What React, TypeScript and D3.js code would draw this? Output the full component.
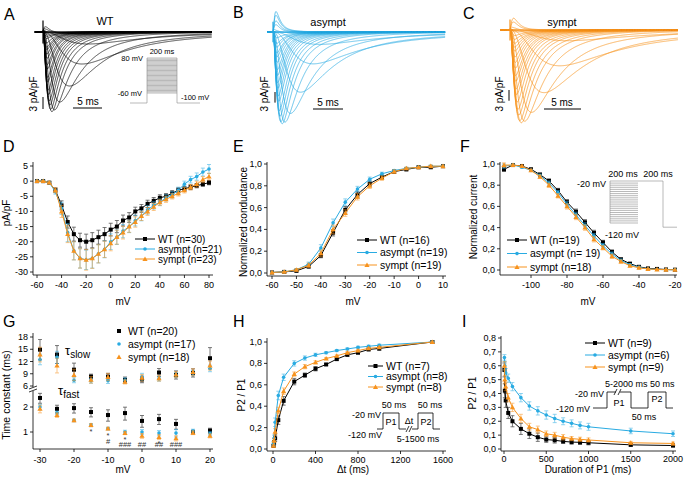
import * as React from 'react'
import * as d3 from 'd3'

const FONT = '"Liberation Sans", Arial, Helvetica, sans-serif'
const WT_C = '#000000'
const AS_C = '#29abe2'
const SY_C = '#f7931e'

// ---------- A-C : current traces (one per voltage step, peak taken from the I-V data)
const stepVoltages = [-60, -55, -50, -45, -40, -35, -30, -25, -20, -15, -10, -5, 0, 5, 10, 15, 20, 25, 30, 35, 40, 45, 50, 55, 60, 65, 70, 75, 80]
const traceTauM = [4, 4, 3.8, 3.5, 3.0, 2.0, 1.2, 0.8, 0.6, 0.5, 0.45, 0.4, 0.36, 0.33, 0.3, 0.28, 0.27, 0.26, 0.25, 0.24, 0.23, 0.22, 0.21, 0.2, 0.2, 0.19, 0.19, 0.18, 0.18]
const traceTauH = [9, 9, 8.5, 8, 7, 5, 3.5, 2.5, 2.0, 1.8, 1.6, 1.5, 1.4, 1.3, 1.25, 1.2, 1.15, 1.1, 1.05, 1.0, 1.0, 0.95, 0.95, 0.9, 0.9, 0.9, 0.85, 0.85, 0.85]

// ---------- D : I-V (pA/pF)
const ivV = [-60, -55, -50, -45, -40, -35, -30, -25, -20, -15, -10, -5, 0, 5, 10, 15, 20, 25, 30, 35, 40, 45, 50, 55, 60, 65, 70, 75, 80]
const ivWT = [0, 0, -0.5, -3, -8, -13.5, -17.5, -19.5, -20, -19.5, -18.5, -17.5, -16, -15, -13, -12, -10, -9, -7.5, -6.5, -5.5, -5, -4, -3, -2.5, -2, -1.5, -1, -0.5]
const ivWTErr = [0.2, 0.2, 0.3, 0.8, 1.5, 2, 2.3, 2.3, 2.5, 2.5, 2.3, 2.2, 2.1, 2, 1.8, 1.6, 1.4, 1.3, 1.2, 1.1, 1, 0.9, 0.9, 0.8, 0.8, 0.8, 0.7, 0.7, 0.7]
const ivAs = [0, 0, -0.5, -3.5, -9, -17, -23, -25.5, -26, -25.5, -24, -22.5, -20, -18.5, -16.5, -15, -13, -11.5, -9.5, -8, -7, -5.5, -4.5, -3, -1, 0.5, 1.5, 3, 4]
const ivAsErr = [0.2, 0.2, 0.3, 0.8, 2, 3, 3, 3.2, 3.2, 3.2, 3, 2.8, 2.6, 2.4, 2.2, 2, 1.8, 1.6, 1.4, 1.2, 1.1, 1, 1, 1, 1, 1.1, 1.2, 1.3, 1.5]
const ivSy = [0, 0, -0.5, -3, -10, -17.5, -23, -25.5, -26, -25.5, -24, -22.5, -20.5, -18.5, -17, -15, -13.5, -11.5, -10, -8.5, -7, -6, -5, -4, -3, -2, -1, 0.5, 1.5]
const ivSyErr = [0.2, 0.2, 0.3, 0.8, 2, 2.8, 3, 3.2, 3.4, 3.3, 3, 2.7, 2.5, 2.3, 2.1, 1.9, 1.7, 1.5, 1.3, 1.2, 1, 1, 0.9, 0.9, 0.9, 0.9, 1, 1, 1.1]

// ---------- E : activation
const condV = [-60, -55, -50, -45, -40, -35, -30, -25, -20, -15, -10, -5, 0, 5, 10]
const condWT = [0.005, 0.01, 0.02, 0.06, 0.16, 0.37, 0.58, 0.72, 0.82, 0.88, 0.93, 0.95, 0.97, 0.97, 0.98]
const condWTErr = [0.005, 0.005, 0.01, 0.015, 0.02, 0.03, 0.03, 0.03, 0.025, 0.02, 0.015, 0.01, 0.01, 0.01, 0.01]
const condAs = [0.005, 0.01, 0.03, 0.08, 0.23, 0.46, 0.65, 0.77, 0.86, 0.91, 0.94, 0.96, 0.97, 0.98, 0.98]
const condAsErr = [0.005, 0.005, 0.01, 0.02, 0.03, 0.035, 0.03, 0.025, 0.02, 0.015, 0.01, 0.01, 0.01, 0.01, 0.01]
const condSy = [0.005, 0.01, 0.03, 0.07, 0.18, 0.4, 0.55, 0.7, 0.8, 0.87, 0.93, 0.96, 0.97, 0.98, 0.98]
const condSyErr = [0.005, 0.005, 0.01, 0.02, 0.03, 0.04, 0.03, 0.03, 0.025, 0.02, 0.015, 0.01, 0.01, 0.01, 0.01]

// ---------- F : steady-state inactivation
const inactV = [-115, -110, -105, -100, -95, -90, -85, -80, -75, -70, -65, -60, -55, -50, -45, -40, -35, -30, -25, -20]
const inactWT = [0.95, 0.99, 0.98, 0.95, 0.9, 0.84, 0.75, 0.64, 0.55, 0.45, 0.35, 0.26, 0.17, 0.1, 0.06, 0.03, 0.015, 0.01, 0.005, 0.003]
const inactAs = [0.98, 0.99, 0.97, 0.94, 0.89, 0.82, 0.73, 0.62, 0.52, 0.42, 0.32, 0.23, 0.15, 0.09, 0.05, 0.025, 0.01, 0.005, 0.003, 0.002]
const inactSy = [0.99, 0.99, 0.98, 0.94, 0.88, 0.8, 0.7, 0.6, 0.5, 0.4, 0.29, 0.21, 0.13, 0.08, 0.04, 0.02, 0.01, 0.005, 0.003, 0.002]
const inactErr = [0.02, 0.01, 0.01, 0.01, 0.015, 0.02, 0.02, 0.025, 0.025, 0.025, 0.025, 0.02, 0.02, 0.015, 0.01, 0.01, 0.005, 0.005, 0.005, 0.005]

// ---------- G : time constants
const tauV = [-30, -25, -20, -15, -10, -5, 0, 5, 10, 15, 20]
const slowWT = [14.9, 13.7, 10, 8.3, 8.3, 7.5, 7.6, 9.3, 8.7, 9.2, 12.8]
const slowWTErr = [2.5, 2.2, 1.6, 0.6, 0.8, 0.7, 0.8, 1, 1, 1, 2.6]
const slowAs = [12.5, 13, 7.4, 7.3, 7.3, 7.4, 8.2, 7.8, 8.7, 9.2, 10.3]
const slowAsErr = [1.3, 1.5, 0.6, 0.6, 0.7, 0.6, 0.9, 0.6, 0.6, 0.6, 0.8]
const slowSy = [13.7, 11, 8.7, 7.5, 8.2, 7.0, 8.0, 7.9, 8.8, 9.4, 11]
const slowSyErr = [1.8, 1.8, 1.4, 0.8, 0.9, 0.5, 0.8, 0.7, 0.7, 0.8, 1.1]
const fastWT = [2.57, 1.9, 1.94, 1.74, 1.6, 1.69, 1.36, 1.43, 1.25, 1.0, 1.04]
const fastWTErr = [0.35, 0.2, 0.25, 0.22, 0.25, 0.3, 0.22, 0.2, 0.17, 0.05, 0.07]
const fastAs = [2.0, 1.7, 1.38, 1.21, 1.1, 1.0, 1.0, 0.97, 0.97, 1.03, 0.96]
const fastAsErr = [0.15, 0.08, 0.05, 0.05, 0.04, 0.05, 0.07, 0.07, 0.1, 0.05, 0.05]
const fastSy = [1.9, 1.6, 1.38, 1.21, 1.1, 0.97, 0.9, 0.87, 0.84, 0.98, 0.9]
const fastSyErr = [0.2, 0.1, 0.05, 0.05, 0.04, 0.04, 0.06, 0.06, 0.06, 0.05, 0.05]
// significance marks under the fast time constants
const sigV = [-15, -10, -5, 0, 5, 10]
const sigStar = ['*', '*', '*', '', '*', '']
const sigHash = ['', '#', '###', '##', '##', '###']

// ---------- H : recovery from inactivation
const recT = [5, 10, 20, 50, 100, 200, 300, 400, 500, 600, 700, 800, 900, 1000, 1500]
const recWT = [0.03, 0.06, 0.1, 0.27, 0.45, 0.63, 0.69, 0.75, 0.79, 0.84, 0.88, 0.9, 0.93, 0.94, 1.0]
const recWTErr = [0.01, 0.02, 0.03, 0.04, 0.04, 0.03, 0.02, 0.02, 0.01, 0.01, 0.01, 0.01, 0.01, 0.02, 0.01]
const recAs = [0.05, 0.1, 0.25, 0.5, 0.67, 0.8, 0.85, 0.88, 0.9, 0.92, 0.935, 0.95, 0.96, 0.97, 1.0]
const recAsErr = [0.02, 0.03, 0.04, 0.04, 0.03, 0.025, 0.02, 0.015, 0.01, 0.01, 0.01, 0.01, 0.01, 0.01, 0.01]
const recSy = [0.03, 0.08, 0.16, 0.36, 0.54, 0.7, 0.77, 0.81, 0.845, 0.87, 0.9, 0.92, 0.94, 0.95, 1.0]
const recSyErr = [0.01, 0.02, 0.03, 0.03, 0.03, 0.02, 0.02, 0.015, 0.01, 0.01, 0.01, 0.01, 0.01, 0.01, 0.01]

// ---------- I : development of inactivation
const durT = [5, 10, 20, 50, 100, 200, 300, 400, 500, 600, 700, 800, 900, 1000, 1500, 2000]
const durWT = [0.57, 0.42, 0.35, 0.26, 0.2, 0.145, 0.11, 0.085, 0.068, 0.063, 0.055, 0.05, 0.048, 0.045, 0.03, 0.025]
const durWTErr = [0.05, 0.05, 0.05, 0.04, 0.04, 0.04, 0.035, 0.03, 0.02, 0.02, 0.015, 0.015, 0.015, 0.015, 0.01, 0.01]
const durAs = [0.66, 0.6, 0.55, 0.51, 0.45, 0.37, 0.31, 0.275, 0.245, 0.22, 0.2, 0.185, 0.17, 0.16, 0.13, 0.11]
const durAsErr = [0.02, 0.03, 0.03, 0.03, 0.03, 0.03, 0.03, 0.03, 0.03, 0.03, 0.025, 0.025, 0.025, 0.025, 0.02, 0.02]
const durSy = [0.6, 0.5, 0.45, 0.37, 0.3, 0.22, 0.16, 0.14, 0.11, 0.1, 0.085, 0.075, 0.07, 0.065, 0.045, 0.04]
const durSyErr = [0.03, 0.03, 0.03, 0.03, 0.03, 0.03, 0.025, 0.025, 0.02, 0.02, 0.02, 0.015, 0.015, 0.015, 0.01, 0.01]

type Marker = 'square' | 'circle' | 'triangle'
interface Series { label: string; color: string; marker: Marker; x: number[]; y: number[]; err: number[] }

const comma = (v: number) => d3.format('.1f')(v).replace('.', ',')
const plain = (v: number) => String(v)

function Mark({ type, cx, cy, color, size = 4 }: { type: Marker; cx: number; cy: number; color: string; size?: number }) {
  if (type === 'square') return <rect x={cx - size / 2} y={cy - size / 2} width={size} height={size} fill={color} />
  if (type === 'circle') return <circle cx={cx} cy={cy} r={size / 2} fill={color} />
  const s = size * 0.65
  return <path d={`M${cx},${cy - s}L${cx + s},${cy + s * 0.75}L${cx - s},${cy + s * 0.75}Z`} fill={color} />
}

function AxisBottom({ scale, ticks, y, x1, x2, labelY, fmt }: any) {
  return (
    <g>
      <line x1={x1} x2={x2} y1={y} y2={y} stroke="#000" strokeWidth={0.8} />
      {ticks.map((t: number) => (
        <g key={t}>
          <line x1={scale(t)} x2={scale(t)} y1={y} y2={y + 3} stroke="#000" strokeWidth={0.8} />
          <text x={scale(t)} y={labelY} textAnchor="middle" fontSize={9}>{fmt(t)}</text>
        </g>
      ))}
    </g>
  )
}

function AxisLeft({ scale, ticks, x, y1, y2, fmt }: any) {
  return (
    <g>
      <line x1={x} x2={x} y1={y1} y2={y2} stroke="#000" strokeWidth={0.8} />
      {ticks.map((t: number) => (
        <g key={t}>
          <line x1={x - 3} x2={x} y1={scale(t)} y2={scale(t)} stroke="#000" strokeWidth={0.8} />
          <text x={x - 5} y={scale(t) + 3} textAnchor="end" fontSize={9}>{fmt(t)}</text>
        </g>
      ))}
    </g>
  )
}

function SeriesMarks({ s, x, y, lines = true }: { s: Series; x: any; y: any; lines?: boolean }) {
  const line = d3.line<number>().x((_, i) => x(s.x[i])).y(d => y(d))
  const ec = s.color === WT_C ? '#444' : s.color
  return (
    <g>
      {s.y.map((v, i) => {
        const cx = x(s.x[i])
        const a = y(v + s.err[i])
        const b = y(v - s.err[i])
        return (
          <g key={i} stroke={ec} strokeWidth={0.8} opacity={s.color === WT_C ? 0.9 : 0.65}>
            <line x1={cx} x2={cx} y1={a} y2={b} />
            <line x1={cx - 2} x2={cx + 2} y1={a} y2={a} />
            <line x1={cx - 2} x2={cx + 2} y1={b} y2={b} />
          </g>
        )
      })}
      {lines && <path d={line(s.y) || ''} fill="none" stroke={s.color} strokeWidth={1} />}
      {s.y.map((v, i) => <Mark key={i} type={s.marker} cx={x(s.x[i])} cy={y(v)} color={s.color} size={s.marker === 'circle' ? 3.6 : 4} />)}
    </g>
  )
}

function Legend({ series, x, y0, dy, w = 20, fontSize = 10.5, showLine = true }: any) {
  return (
    <g>
      {series.map((s: Series, i: number) => (
        <g key={s.label}>
          {showLine && <line x1={x} x2={x + w} y1={y0 + i * dy} y2={y0 + i * dy} stroke={s.color} strokeWidth={1} />}
          <Mark type={s.marker} cx={x + w / 2} cy={y0 + i * dy} color={s.color} size={s.marker === 'circle' ? 3.6 : 4} />
          <text x={x + w + 3} y={y0 + i * dy + 3.5} fontSize={fontSize}>{s.label}</text>
        </g>
      ))}
    </g>
  )
}

function traceShape(tm: number, th: number, t: number) {
  if (t <= 0) return 0
  const m = 1 - Math.exp(-t / tm)
  return m * m * m * (0.85 * Math.exp(-t / th) + 0.15 * Math.exp(-t / (th * 3)))
}

function Traces({ amps, color, t0x, pxPerMs, tStart, tEnd, base, pxPerUnit }: any) {
  const x = d3.scaleLinear().domain([0, 1]).range([t0x, t0x + pxPerMs])
  const y = d3.scaleLinear().domain([0, -1]).range([base, base + pxPerUnit])
  const times = d3.range(tStart, tEnd, 0.04)
  const line = d3.line<[number, number]>().x(d => x(d[0])).y(d => y(d[1]))
  return (
    <g fill="none" stroke={color} strokeWidth={0.7}>
      {amps.map((a: number, i: number) => {
        const tm = traceTauM[i]
        const th = traceTauH[i]
        const peak = d3.max(times, t => traceShape(tm, th, t)) || 1
        const gate = Math.max(0, (stepVoltages[i] + 40) / 120) * 1.8
        const pts: [number, number][] = times.map(t => {
          const g = t > 0 ? gate * (t / 0.45) * Math.exp(1 - t / 0.45) : 0
          return [t, (a * traceShape(tm, th, t)) / peak + g]
        })
        return <path key={i} d={line(pts) || ''} />
      })}
      <line x1={x(0)} x2={x(0)} y1={y(2.9)} y2={y(-2.9)} strokeWidth={1.2} />
      <line x1={x(-0.4)} x2={x(0.4)} y1={y(0)} y2={y(0)} strokeWidth={1.5} />
    </g>
  )
}

function ScaleBars({ vx, vy1, pxPerUnit, hx1, pxPerMs, hy, textX, textY, msX }: any) {
  return (
    <g>
      <line x1={vx} x2={vx} y1={vy1} y2={vy1 + 3 * pxPerUnit} stroke="#000" strokeWidth={1} />
      <text transform={`translate(${textX},${textY}) rotate(-90)`} textAnchor="middle" fontSize={10}>3 pA/pF</text>
      <line x1={hx1} x2={hx1 + 5 * pxPerMs} y1={hy} y2={hy} stroke="#000" strokeWidth={1} />
      <text x={msX} y={hy - 3} textAnchor="middle" fontSize={10}>5 ms</text>
    </g>
  )
}

function ProtocolA() {
  const v = d3.scaleLinear().domain([-100, 80]).range([103, 58])
  const x1 = 147
  const x2 = 177
  return (
    <g>
      <g stroke="#8a8a8a" strokeWidth={0.6}>
        {stepVoltages.map(s => <line key={s} x1={x1} x2={x2} y1={v(s)} y2={v(s)} />)}
        <line x1={130} x2={x1} y1={v(-100)} y2={v(-100)} />
        <line x1={x2} x2={200} y1={v(-100)} y2={v(-100)} />
        <line x1={x1} x2={x1} y1={v(-100)} y2={v(80)} />
        <line x1={x2} x2={x2} y1={v(-100)} y2={v(80)} />
      </g>
      <g fontSize={7.5}>
        <text x={143} y={v(80) + 3} textAnchor="end">80 mV</text>
        <text x={162} y={v(80) - 4} textAnchor="middle">200 ms</text>
        <text x={142} y={v(-60) + 3} textAnchor="end">-60 mV</text>
        <text x={181} y={v(-100) - 3}>-100 mV</text>
      </g>
    </g>
  )
}

function ProtocolF() {
  const v = d3.scaleLinear().domain([-120, -20]).range([223, 181])
  const pre = d3.range(-120, -15, 5)
  return (
    <g>
      <g stroke="#8a8a8a" strokeWidth={0.6}>
        {pre.map(s => <line key={s} x1={610} x2={638} y1={v(s)} y2={v(s)} />)}
        <line x1={610} x2={610} y1={v(-120)} y2={v(-20)} />
        <line x1={638} x2={663} y1={v(-20)} y2={v(-20)} />
        <line x1={663} x2={663} y1={v(-20)} y2={v(-130)} />
        <line x1={663} x2={677} y1={v(-130)} y2={v(-130)} />
      </g>
      <g fontSize={9}>
        <text x={606} y={187} textAnchor="end">-20 mV</text>
        <text x={623} y={177} textAnchor="middle">200 ms</text>
        <text x={658} y={177} textAnchor="middle">200 ms</text>
        <text x={605} y={238}>-120 mV</text>
      </g>
    </g>
  )
}

function ProtocolH() {
  const hi = 413
  const lo = 429
  return (
    <g>
      <path d={`M377,${lo}H383V${hi}H399V${lo}H406M412,${lo}H418V${hi}H433V${lo}H440`} fill="none" stroke="#000" strokeWidth={0.8} />
      <line x1={406} x2={409} y1={lo + 3} y2={lo - 3} stroke="#000" strokeWidth={0.8} />
      <line x1={409} x2={412} y1={lo + 3} y2={lo - 3} stroke="#000" strokeWidth={0.8} />
      <g fontSize={9}>
        <text x={394} y={408} textAnchor="middle">50 ms</text>
        <text x={430} y={408} textAnchor="middle">50 ms</text>
        <text x={381} y={418} textAnchor="end">-20 mV</text>
        <text x={391} y={425} textAnchor="middle">P1</text>
        <text x={409} y={424} textAnchor="middle">Δt</text>
        <text x={426} y={425} textAnchor="middle">P2</text>
        <text x={382} y={438} textAnchor="end">-120 mV</text>
        <text x={418} y={442} textAnchor="middle">5-1500 ms</text>
      </g>
    </g>
  )
}

function ProtocolI() {
  const hi = 392
  const lo = 408
  return (
    <g>
      <path d={`M593,${lo}H607V${hi}H616M620,${hi}H631V${lo}H648V${hi}H666V${lo}H673`} fill="none" stroke="#000" strokeWidth={0.8} />
      <line x1={614} x2={617} y1={hi + 3} y2={hi - 3} stroke="#000" strokeWidth={0.8} />
      <line x1={618} x2={621} y1={hi + 3} y2={hi - 3} stroke="#000" strokeWidth={0.8} />
      <g fontSize={9}>
        <text x={604} y={397} textAnchor="end">-20 mV</text>
        <text x={605} y={387}>5-2000 ms</text>
        <text x={650} y={387}>50 ms</text>
        <text x={590} y={412} textAnchor="end">-120 mV</text>
        <text x={644} y={420} textAnchor="middle">50 ms</text>
        <text x={619} y={406} textAnchor="middle">P1</text>
        <text x={657} y={402} textAnchor="middle">P2</text>
      </g>
    </g>
  )
}

function PanelLetter({ x, y, t }: { x: number; y: number; t: string }) {
  return <text x={x} y={y} fontSize={16}>{t}</text>
}

function YTitle({ x, y, t, size = 10 }: { x: number; y: number; t: string; size?: number }) {
  return <text transform={`translate(${x},${y}) rotate(-90)`} textAnchor="middle" fontSize={size}>{t}</text>
}

export default function App() {
  // D
  const dx = d3.scaleLinear().domain([-60, 80]).range([37, 209])
  const dy = d3.scaleLinear().domain([5, -30]).range([166, 272])
  const dSeries: Series[] = [
    { label: 'WT (n=30)', color: WT_C, marker: 'square', x: ivV, y: ivWT, err: ivWTErr },
    { label: 'asympt (n=21)', color: AS_C, marker: 'circle', x: ivV, y: ivAs, err: ivAsErr },
    { label: 'sympt (n=23)', color: SY_C, marker: 'triangle', x: ivV, y: ivSy, err: ivSyErr },
  ]
  // E
  const ex = d3.scaleLinear().domain([-60, 10]).range([272, 443])
  const ey = d3.scaleLinear().domain([0, 1]).range([273, 164])
  const eSeries: Series[] = [
    { label: 'WT (n=16)', color: WT_C, marker: 'square', x: condV, y: condWT, err: condWTErr },
    { label: 'asympt (n=19)', color: AS_C, marker: 'circle', x: condV, y: condAs, err: condAsErr },
    { label: 'sympt (n=19)', color: SY_C, marker: 'triangle', x: condV, y: condSy, err: condSyErr },
  ]
  // F
  const fx = d3.scaleLinear().domain([-100, -20]).range([531, 675])
  const fy = d3.scaleLinear().domain([0, 1]).range([270, 164])
  const fSeries: Series[] = [
    { label: 'WT (n=19)', color: WT_C, marker: 'square', x: inactV, y: inactWT, err: inactErr },
    { label: 'asympt (n= 19)', color: AS_C, marker: 'circle', x: inactV, y: inactAs, err: inactErr },
    { label: 'sympt (n=18)', color: SY_C, marker: 'triangle', x: inactV, y: inactSy, err: inactErr },
  ]
  // G
  const gx = d3.scaleLinear().domain([-30, 20]).range([40, 210])
  const gyUp = d3.scaleLinear().domain([6, 18]).range([386, 337])
  const gyLo = d3.scaleLog().domain([1, 2]).range([432, 407])
  const gSlow: Series[] = [
    { label: 'WT (n=20)', color: WT_C, marker: 'square', x: tauV, y: slowWT, err: slowWTErr },
    { label: 'asympt (n=17)', color: AS_C, marker: 'circle', x: tauV, y: slowAs, err: slowAsErr },
    { label: 'sympt (n=18)', color: SY_C, marker: 'triangle', x: tauV, y: slowSy, err: slowSyErr },
  ]
  const gFast: Series[] = [
    { label: 'WT (n=20)', color: WT_C, marker: 'square', x: tauV, y: fastWT, err: fastWTErr },
    { label: 'asympt (n=17)', color: AS_C, marker: 'circle', x: tauV, y: fastAs, err: fastAsErr },
    { label: 'sympt (n=18)', color: SY_C, marker: 'triangle', x: tauV, y: fastSy, err: fastSyErr },
  ]
  // H
  const hx = d3.scaleLinear().domain([0, 1600]).range([273, 443])
  const hy = d3.scaleLinear().domain([0, 1]).range([449, 342])
  const hSeries: Series[] = [
    { label: 'WT (n=7)', color: WT_C, marker: 'square', x: recT, y: recWT, err: recWTErr },
    { label: 'asympt (n=8)', color: AS_C, marker: 'circle', x: recT, y: recAs, err: recAsErr },
    { label: 'sympt (n=8)', color: SY_C, marker: 'triangle', x: recT, y: recSy, err: recSyErr },
  ]
  // I
  const ix = d3.scaleLinear().domain([0, 2000]).range([504, 673])
  const iy = d3.scaleLinear().domain([0, 0.8]).range([449, 338])
  const iSeries: Series[] = [
    { label: 'WT (n=9)', color: WT_C, marker: 'square', x: durT, y: durWT, err: durWTErr },
    { label: 'asympt (n=6)', color: AS_C, marker: 'circle', x: durT, y: durAs, err: durAsErr },
    { label: 'sympt (n=9)', color: SY_C, marker: 'triangle', x: durT, y: durSy, err: durSyErr },
  ]

  return (
    <svg width={685} height={478} style={{ position: 'absolute', left: 0, top: 0, background: '#fff' }} fontFamily={FONT}>
      <rect width={685} height={478} fill="#fff" />

      {/* A */}
      <PanelLetter x={4} y={20} t="A" />
      <text x={105} y={25} textAnchor="middle" fontSize={11}>WT</text>
      <Traces amps={ivWT} color={WT_C} t0x={43} pxPerMs={5.8} tStart={-1.4} tEnd={29.1} base={32} pxPerUnit={4} />
      <ScaleBars vx={43} vy1={97} pxPerUnit={4} hx1={73} pxPerMs={5.8} hy={108} textX={37} textY={94} msX={88} />
      <ProtocolA />

      {/* B */}
      <PanelLetter x={233} y={18} t="B" />
      <text x={328} y={26} textAnchor="middle" fontSize={11}>asympt</text>
      <Traces amps={ivAs} color={AS_C} t0x={273} pxPerMs={6.0} tStart={-1.0} tEnd={28.7} base={32} pxPerUnit={3.54} />
      <ScaleBars vx={275} vy1={92} pxPerUnit={3.54} hx1={313} pxPerMs={6.0} hy={109} textX={268} textY={94} msX={328} />

      {/* C */}
      <PanelLetter x={463} y={19} t="C" />
      <text x={562} y={26} textAnchor="middle" fontSize={11}>sympt</text>
      <Traces amps={ivSy} color={SY_C} t0x={510} pxPerMs={7.4} tStart={-1.35} tEnd={22.7} base={30} pxPerUnit={3.58} />
      <ScaleBars vx={509} vy1={90} pxPerUnit={3.58} hx1={544} pxPerMs={7.4} hy={109} textX={503} textY={94} msX={562} />

      {/* D */}
      <PanelLetter x={3} y={152} t="D" />
      <AxisLeft scale={dy} ticks={[5, 0, -5, -10, -15, -20, -25, -30]} x={33} y1={162} y2={275} fmt={plain} />
      <AxisBottom scale={dx} ticks={[-60, -40, -20, 0, 20, 40, 60, 80]} y={275} x1={33} x2={213} labelY={288} fmt={plain} />
      {dSeries.map(s => <SeriesMarks key={s.label} s={s} x={dx} y={dy} />)}
      <Legend series={dSeries} x={135} y0={239} dy={10} w={20} fontSize={10} />
      <text x={123} y={305} textAnchor="middle" fontSize={10}>mV</text>
      <YTitle x={10} y={213} t="pA/pF" />

      {/* E */}
      <PanelLetter x={233} y={152} t="E" />
      <AxisLeft scale={ey} ticks={[0, 0.2, 0.4, 0.6, 0.8, 1]} x={267} y1={162} y2={276} fmt={comma} />
      <AxisBottom scale={ex} ticks={[-60, -50, -40, -30, -20, -10, 0, 10]} y={276} x1={267} x2={446} labelY={288} fmt={plain} />
      {eSeries.map(s => <SeriesMarks key={s.label} s={s} x={ex} y={ey} />)}
      <Legend series={eSeries} x={357} y0={240} dy={12.5} w={20} fontSize={10.5} />
      <text x={353} y={305} textAnchor="middle" fontSize={10}>mV</text>
      <YTitle x={247} y={222} t="Normalized conductance" />

      {/* F */}
      <PanelLetter x={460} y={152} t="F" />
      <AxisLeft scale={fy} ticks={[0, 0.2, 0.4, 0.6, 0.8, 1]} x={500} y1={162} y2={275} fmt={comma} />
      <AxisBottom scale={fx} ticks={[-100, -80, -60, -40, -20]} y={275} x1={500} x2={677} labelY={288} fmt={plain} />
      <ProtocolF />
      {fSeries.map(s => <SeriesMarks key={s.label} s={s} x={fx} y={fy} />)}
      <Legend series={fSeries} x={507} y0={240} dy={13.5} w={20} fontSize={10.5} />
      <text x={588} y={305} textAnchor="middle" fontSize={10}>mV</text>
      <YTitle x={477} y={217} t="Normalized current" />

      {/* G */}
      <PanelLetter x={3} y={327} t="G" />
      <AxisLeft scale={gyUp} ticks={[6, 9, 12, 15, 18]} x={33} y1={333} y2={387} fmt={plain} />
      <AxisLeft scale={gyLo} ticks={[1, 2]} x={33} y1={391} y2={449} fmt={plain} />
      <line x1={29} x2={37} y1={389} y2={386} stroke="#000" strokeWidth={0.8} />
      <line x1={29} x2={37} y1={392} y2={389} stroke="#000" strokeWidth={0.8} />
      <AxisBottom scale={gx} ticks={[-30, -20, -10, 0, 10, 20]} y={449} x1={33} x2={213} labelY={463} fmt={plain} />
      {gSlow.map(s => <SeriesMarks key={s.label} s={s} x={gx} y={gyUp} lines={false} />)}
      {gFast.map(s => <SeriesMarks key={'f' + s.label} s={s} x={gx} y={gyLo} lines={false} />)}
      <g fontSize={7.5} fill="#333" textAnchor="middle">
        {sigV.map((v, i) => {
          const idx = tauV.indexOf(v)
          const low = gyLo(Math.min(fastWT[idx], fastAs[idx], fastSy[idx]))
          const starY = low + 9
          const hashY = Math.min(sigStar[i] ? starY + 6.5 : low + 11, 447)
          return (
            <text key={v} x={gx(v)} y={sigStar[i] ? starY : hashY}>
              {sigStar[i] && <tspan>{sigStar[i]}</tspan>}
              {sigHash[i] && <tspan x={gx(v)} dy={sigStar[i] ? hashY - starY : 0}>{sigHash[i]}</tspan>}
            </text>
          )
        })}
      </g>
      <text x={65} y={355} fontSize={13}>τ<tspan fontSize={10} dy={3}>slow</tspan></text>
      <text x={58} y={395} fontSize={13}>τ<tspan fontSize={10} dy={3}>fast</tspan></text>
      <Legend series={gSlow} x={113} y0={331} dy={13} w={12} fontSize={10.5} showLine={false} />
      <text x={123} y={473} textAnchor="middle" fontSize={10}>mV</text>
      <YTitle x={10} y={395} t="Time constant (ms)" size={10.5} />

      {/* H */}
      <PanelLetter x={233} y={327} t="H" />
      <AxisLeft scale={hy} ticks={[0, 0.2, 0.4, 0.6, 0.8, 1]} x={267} y1={338} y2={451} fmt={comma} />
      <AxisBottom scale={hx} ticks={[0, 400, 800, 1200, 1600]} y={451} x1={267} x2={446} labelY={463} fmt={plain} />
      {hSeries.map(s => <SeriesMarks key={s.label} s={s} x={hx} y={hy} />)}
      <Legend series={hSeries} x={368} y0={366} dy={10.5} w={15} fontSize={10.5} />
      <ProtocolH />
      <text x={353} y={473} textAnchor="middle" fontSize={10}>Δt (ms)</text>
      <YTitle x={245} y={395} t="P2 / P1" />

      {/* I */}
      <PanelLetter x={462} y={327} t="I" />
      <AxisLeft scale={iy} ticks={[0, 0.1, 0.2, 0.3, 0.4, 0.5, 0.6, 0.7, 0.8]} x={501} y1={336} y2={451} fmt={comma} />
      <AxisBottom scale={ix} ticks={[0, 500, 1000, 1500, 2000]} y={451} x1={501} x2={676} labelY={462} fmt={plain} />
      {iSeries.map(s => <SeriesMarks key={s.label} s={s} x={ix} y={iy} />)}
      <Legend series={iSeries} x={585} y0={343} dy={12} w={20} fontSize={10.5} />
      <ProtocolI />
      <text x={588} y={473} textAnchor="middle" fontSize={10}>Duration of P1 (ms)</text>
      <YTitle x={476} y={393} t="P2 / P1" />
    </svg>
  )
}
